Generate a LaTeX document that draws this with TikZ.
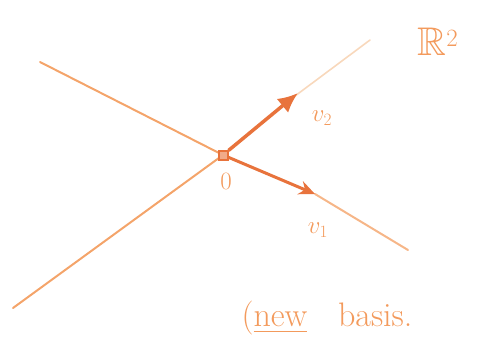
\documentclass[tikz,border=0pt]{standalone}
\usepackage{amsfonts}
\usetikzlibrary{arrows.meta}
\definecolor{lineor}{HTML}{F4A46A}
\definecolor{faintor}{HTML}{F8D8BC}
\definecolor{arrowor}{HTML}{E8733C}
\definecolor{textor}{HTML}{F39A5C}
\tikzset{
  axisline/.style={draw=lineor, line width=2pt, line cap=round},
  faintline/.style={draw=faintor, line width=1.6pt, line cap=round},
  vecarrow/.style={draw=arrowor, line width=3.5pt, -{Latex[length=20pt,width=18pt]}},
  lbl/.style={text=textor, font=\fontsize{24}{26}\selectfont},
  originbox/.style={draw=arrowor, fill=arrowor!60, line width=2pt, minimum size=9pt, inner sep=0pt}
}
\begin{document}
\begin{tikzpicture}[x=1pt,y=-1pt]
\useasboundingbox (0,0) rectangle (493,354);
\node[originbox] (O) at (223,155) {};
\coordinate (L1a) at (40,62);
\coordinate (L1b) at (408,250);
\coordinate (L2a) at (13,308);
\coordinate (L2b) at (370,40);
\coordinate (L2m) at (295,96);
\coordinate (V1) at (315,194);
\coordinate (V2) at (298,93);
% descending line
\draw[axisline] (L1a) -- (O.center);
\draw[axisline, draw=lineor!80] (V1) -- (L1b);
% ascending line
\draw[axisline] (L2a) -- (O.center);
\draw[faintline] (L2m) -- (L2b);
% vectors
\draw[vecarrow] (O) -- (V2);
\draw[vecarrow, line width=3pt, -{Stealth[length=16pt,width=14pt,open]}] (O) -- (V1);
\node[originbox] (O2) at (223,155) {};
% labels
\node[lbl] (lv2) at (322,118) {$v_2$};
\node[lbl] (l0) at (226,181) {$0$};
\node[lbl] (lv1) at (318,230) {$v_1$};
\node[lbl, font=\fontsize{40}{42}\selectfont] (lR) at (438,42) {$\mathbb{R}^2$};
\node[lbl, font=\fontsize{34}{36}\selectfont, anchor=west] (lnb) at (238,318) {(\underline{new}\hspace{0.9em}basis.};
\end{tikzpicture}
\end{document}
